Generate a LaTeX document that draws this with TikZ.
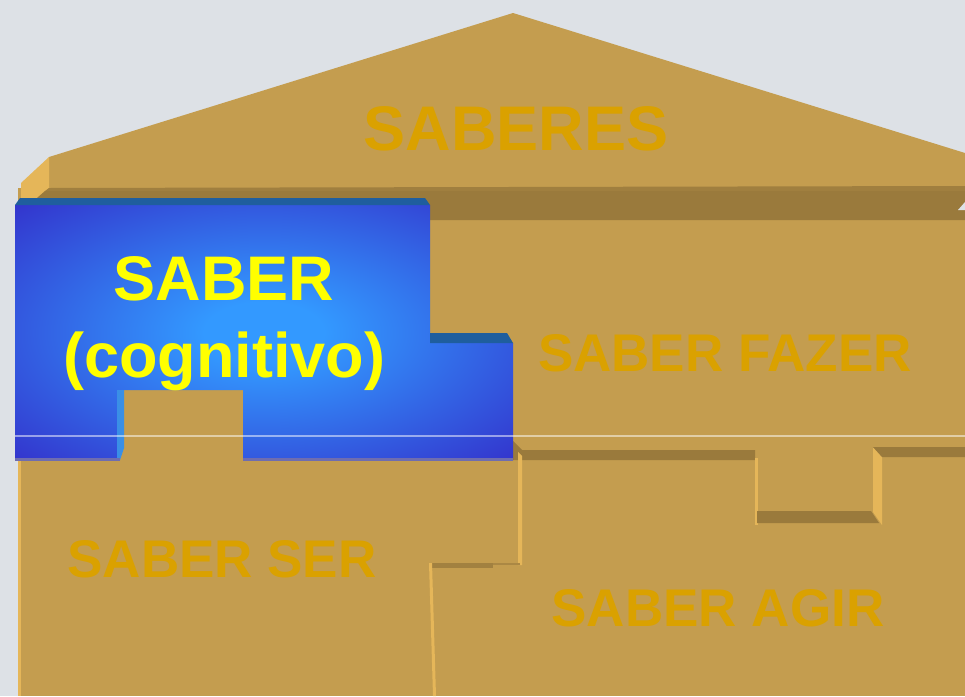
\documentclass[tikz,border=0pt]{standalone}
\usepackage{fontspec}
\setmainfont{Liberation Sans}
\definecolor{bg}{HTML}{DDE1E6}
\definecolor{tanc}{HTML}{C49D4F}
\definecolor{tandark}{HTML}{9A7A3C}
\definecolor{tanlight}{HTML}{E5B659}
\definecolor{gold}{HTML}{DAA100}
\definecolor{blueout}{HTML}{3333CC}
\definecolor{bluein}{HTML}{3399FF}
\definecolor{tealc}{HTML}{1F5E9E}
\definecolor{bluebevel}{HTML}{3A8FE6}
\definecolor{blueedge}{HTML}{6F6DAF}
\definecolor{txtyellow}{HTML}{FFFF00}
\pgfdeclareradialshading{bluepiece}{\pgfpoint{0bp}{0bp}}{color(0bp)=(bluein); color(6bp)=(bluein); color(36bp)=(blueout); color(50bp)=(blueout)}
\begin{document}
\begin{tikzpicture}[x=1pt,y=-1pt,
  lbl/.style={font=\bfseries\fontsize{53}{60}\selectfont, text=gold, anchor=base, inner sep=0pt},
  big/.style={font=\bfseries\fontsize{63}{70}\selectfont, anchor=base, inner sep=0pt}]
\useasboundingbox (0,0) rectangle (965,696);
\fill[bg] (0,0) rectangle (965,696);
% body
\fill[tanc] (18,188) rectangle (965,696);
\fill[tanlight] (18,460) rectangle (21,696);
% roof
\fill[tanc] (49,157) -- (513,13) -- (965,153) -- (965,188) -- (49,188) -- cycle;
\fill[tanlight] (21,183) -- (49,157) -- (49,188) -- (37,198) -- (21,198) -- cycle;
\fill[tandark!85!tanc] (49,188) -- (965,186) -- (965,191) -- (45,191) -- cycle;
\fill[tandark] (45,191) -- (965,191) -- (965,220) -- (37,220) -- (37,198) -- cycle;
\fill[bg] (965,202) -- (965,210) -- (958,210) -- cycle;
% lower pieces
\fill[tandark] (513,441) -- (522,450) -- (755,450) -- (755,460) -- (513,460) -- cycle;
\fill[tanlight] (518,452) -- (522,456) -- (522,565) -- (518,565) -- cycle;
\fill[tandark!80!tanc] (432,563) rectangle (493,568);
\fill[tandark!60!tanc] (493,563) rectangle (520,565);
\fill[tanlight] (429,563) -- (432,563) -- (436,696) -- (433,696) -- cycle;
\fill[tanlight] (755,458) rectangle (758,525);
\fill[tandark] (757,511) -- (871,511) -- (879,523) -- (757,523) -- cycle;
\fill[tanlight] (873,447) -- (882,457) -- (882,525) -- (873,512) -- cycle;
\fill[tandark] (873,447) -- (965,447) -- (965,457) -- (882,457) -- cycle;
% blue piece
\shade[shading=bluepiece] (15,205) -- (430,205) -- (430,343) -- (513,343) -- (513,460) -- (243,460) -- (243,390) -- (117,390) -- (117,460) -- (15,460) -- cycle;
\fill[bluebevel] (117,390) -- (124,390) -- (124,448) -- (120,460) -- (117,460) -- cycle;
\fill[tealc] (20,198) -- (425,198) -- (430,205) -- (15,205) -- cycle;
\fill[tealc] (430,333) -- (507,333) -- (513,343) -- (430,343) -- cycle;
\fill[blueedge] (15,458) rectangle (120,461);
\fill[blueedge] (243,458) rectangle (513,461);
% thin line
\draw[white, opacity=0.5, line width=1.2pt] (15,436) -- (965,436);
% labels
\node[big, text=gold] (saberes) at (516,150) {SABERES};
\node[lbl] (fazer) at (725,371) {SABER FAZER};
\node[lbl] (ser) at (222,577) {SABER SER};
\node[lbl] (agir) at (718,626) {SABER AGIR};
\node[big, text=txtyellow] (saber) at (224,300) {SABER};
\node[big, text=txtyellow] (cog) at (224,377) {(cognitivo)};
\end{tikzpicture}
\end{document}
